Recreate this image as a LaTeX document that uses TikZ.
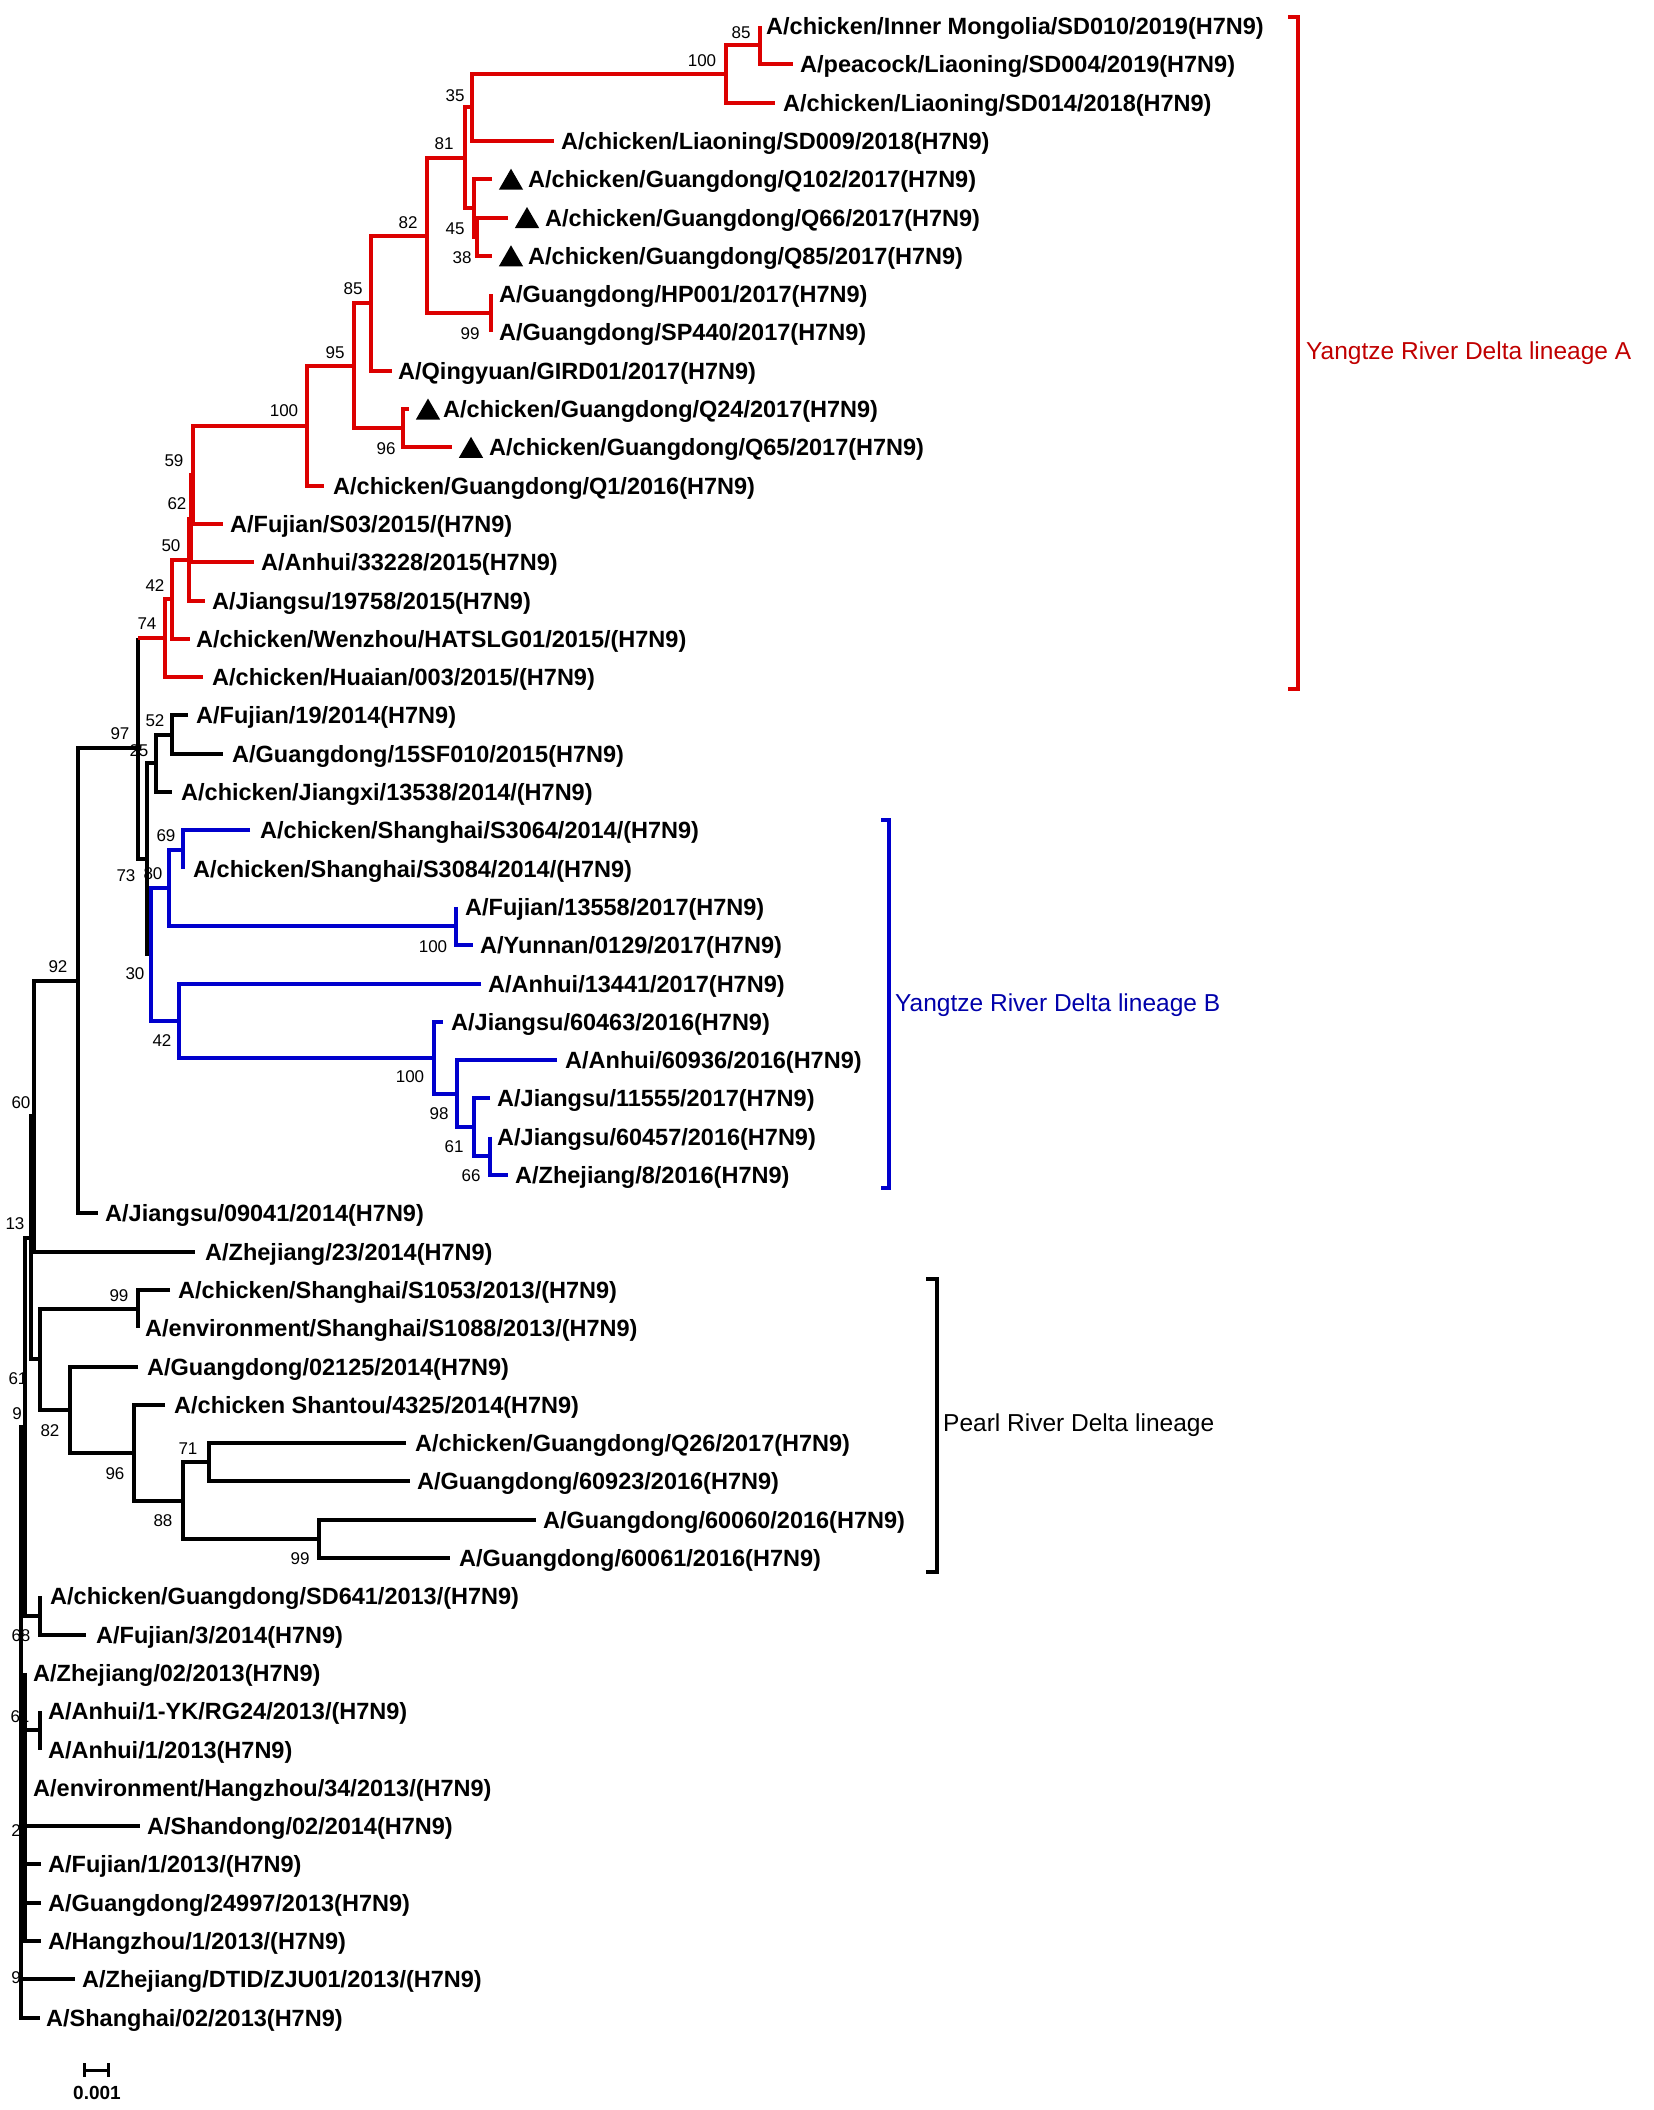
\documentclass[tikz,border=0pt]{standalone}
\usepackage{fontspec}
\setmainfont{Liberation Sans}
\usetikzlibrary{positioning,shapes.geometric}
\definecolor{treered}{RGB}{220,0,0}
\definecolor{labelred}{RGB}{192,0,0}
\definecolor{treeblue}{RGB}{0,0,205}
\definecolor{labelblue}{RGB}{0,0,170}
\begin{document}
\begin{tikzpicture}[x=1pt, y=-1pt,
    kb/.style={line width=4pt, black},
    rb/.style={line width=4pt, treered},
    bb/.style={line width=4pt, treeblue},
    tip/.style={font=\bfseries\fontsize{23.5}{28}\selectfont, inner sep=0pt, anchor=west, text height=17pt, text depth=0pt},
    bs/.style={font=\fontsize{17}{20}\selectfont, inner sep=0pt, text height=12.2pt, text depth=0pt},
    tri/.style={regular polygon, regular polygon sides=3, fill=black, minimum size=28pt, inner sep=0pt},
    clade/.style={font=\fontsize{24.5}{28}\selectfont, inner sep=0pt, anchor=west, text height=17.5pt, text depth=0pt}]
    \useasboundingbox (0,0) rectangle (1654,2110);
    % Bootstrap values
    \node[bs] (b85a) at (741,32) {85};
    \node[bs] (b100a) at (702,60) {100};
    \node[bs] (b35) at (455,95) {35};
    \node[bs] (b81) at (444,143) {81};
    \node[bs] (b45) at (455,228) {45};
    \node[bs] (b38) at (462,257) {38};
    \node[bs] (b82) at (408,222) {82};
    \node[bs] (b99a) at (470,333) {99};
    \node[bs] (b85b) at (353,288) {85};
    \node[bs] (b95) at (335,352) {95};
    \node[bs] (b96a) at (386,448) {96};
    \node[bs] (b100b) at (284,410) {100};
    \node[bs] (b59) at (174,460) {59};
    \node[bs] (b62) at (177,503) {62};
    \node[bs] (b50) at (171,545) {50};
    \node[bs] (b42a) at (155,585) {42};
    \node[bs] (b74) at (147,623) {74};
    \node[bs] (b52) at (155,720) {52};
    \node[bs] (b97) at (120,733) {97};
    \node[bs] (b25) at (139,750) {25};
    \node[bs] (b73) at (126,875) {73};
    \node[bs] (b80) at (153,873) {80};
    \node[bs] (b69) at (166,835) {69};
    \node[bs] (b100c) at (433,946) {100};
    \node[bs] (b30) at (135,973) {30};
    \node[bs] (b42b) at (162,1040) {42};
    \node[bs] (b100d) at (410,1076) {100};
    \node[bs] (b98) at (439,1113) {98};
    \node[bs] (b61b) at (454,1146) {61};
    \node[bs] (b66) at (471,1175) {66};
    \node[bs] (b92) at (58,966) {92};
    \node[bs] (b60) at (21,1102) {60};
    \node[bs] (b13) at (15,1223) {13};
    \node[bs] (b99b) at (119,1295) {99};
    \node[bs] (b82b) at (50,1430) {82};
    \node[bs] (b96b) at (115,1473) {96};
    \node[bs] (b71) at (188,1448) {71};
    \node[bs] (b88) at (163,1520) {88};
    \node[bs] (b99c) at (300,1558) {99};
    \node[bs] (b61c) at (18,1378) {61};
    \node[bs] (b9a) at (17,1413) {9};
    \node[bs] (b68) at (21,1635) {68};
    \node[bs] (b61d) at (20,1716) {61};
    \node[bs] (b2) at (16,1830) {2};
    \node[bs] (b9b) at (16,1977) {9};
    % Leaf ends
    \coordinate (e1) at (760,26);
    \coordinate (e2) at (793,64.3);
    \coordinate (e3) at (775,102.6);
    \coordinate (e4) at (554,140.9);
    \coordinate (e5) at (492,179.2);
    \coordinate (e6) at (508,217.5);
    \coordinate (e7) at (492,255.8);
    \coordinate (e8) at (491,294.1);
    \coordinate (e9) at (491,332.4);
    \coordinate (e10) at (392,370.7);
    \coordinate (e11) at (409,409);
    \coordinate (e12) at (452,447.3);
    \coordinate (e13) at (324,485.6);
    \coordinate (e14) at (223,523.9);
    \coordinate (e15) at (254,562.2);
    \coordinate (e16) at (205,600.5);
    \coordinate (e17) at (190,638.8);
    \coordinate (e18) at (203,677.1);
    \coordinate (e19) at (188,715.4);
    \coordinate (e20) at (223,753.7);
    \coordinate (e21) at (172,792);
    \coordinate (e22) at (250,830.3);
    \coordinate (e23) at (183,868.6);
    \coordinate (e24) at (456,906.9);
    \coordinate (e25) at (473,945.2);
    \coordinate (e26) at (481,983.5);
    \coordinate (e27) at (443,1021.8);
    \coordinate (e28) at (557,1060.1);
    \coordinate (e29) at (490,1098.4);
    \coordinate (e30) at (490,1136.7);
    \coordinate (e31) at (508,1175);
    \coordinate (e32) at (98,1213.3);
    \coordinate (e33) at (195,1251.6);
    \coordinate (e34) at (170,1289.9);
    \coordinate (e35) at (138,1328.2);
    \coordinate (e36) at (138,1366.5);
    \coordinate (e37) at (165,1404.8);
    \coordinate (e38) at (406,1443.1);
    \coordinate (e39) at (410,1481.4);
    \coordinate (e40) at (536,1519.7);
    \coordinate (e41) at (450,1558);
    \coordinate (e42) at (40,1596.3);
    \coordinate (e43) at (86,1634.6);
    \coordinate (e44) at (25,1672.9);
    \coordinate (e45) at (40,1711.2);
    \coordinate (e46) at (40,1749.5);
    \coordinate (e47) at (25,1787.8);
    \coordinate (e48) at (140,1826.1);
    \coordinate (e49) at (41,1864.4);
    \coordinate (e50) at (41,1902.7);
    \coordinate (e51) at (41,1941);
    \coordinate (e52) at (75,1979.3);
    \coordinate (e53) at (40,2017.6);
    % Internal nodes
    \coordinate (n85a) at (760,45.2);
    \coordinate (n100a) at (726,73.9);
    \coordinate (n35) at (472,107.4);
    \coordinate (n38) at (477,236.7);
    \coordinate (n45) at (474,207.9);
    \coordinate (n81) at (465,157.7);
    \coordinate (n99a) at (491,313.3);
    \coordinate (n82) at (427,235.5);
    \coordinate (n85b) at (371,303.1);
    \coordinate (n96a) at (403,428.2);
    \coordinate (n95) at (354,365.6);
    \coordinate (n100b) at (307,425.6);
    \coordinate (n59) at (193,474.8);
    \coordinate (n62) at (191,518.5);
    \coordinate (n50) at (189,559.5);
    \coordinate (n42a) at (172,599.2);
    \coordinate (n74) at (165,638.1);
    \coordinate (n52) at (172,734.6);
    \coordinate (n25) at (156,763.3);
    \coordinate (n69) at (183,849.5);
    \coordinate (n100c) at (456,926.1);
    \coordinate (n80) at (169,887.8);
    \coordinate (n66) at (490,1155.9);
    \coordinate (n61b) at (474,1127.1);
    \coordinate (n98) at (457,1093.6);
    \coordinate (n100d) at (434,1057.7);
    \coordinate (n42b) at (179,1020.6);
    \coordinate (n30) at (151,954.2);
    \coordinate (n73) at (147,858.8);
    \coordinate (n97) at (138,748.4);
    \coordinate (n92) at (78,980.9);
    \coordinate (n60) at (34,1116.2);
    \coordinate (n99b) at (138,1309);
    \coordinate (n99c) at (319,1538.9);
    \coordinate (n71) at (209,1462.3);
    \coordinate (n88) at (183,1500.6);
    \coordinate (n96b) at (134,1452.7);
    \coordinate (n82b) at (70,1409.6);
    \coordinate (nPRD) at (40,1359.3);
    \coordinate (n13) at (31,1237.8);
    \coordinate (nA) at (25,1426.7);
    \coordinate (nSD) at (40,1615.5);
    \coordinate (nAH) at (40,1730.4);
    \coordinate (nC) at (25,1807);
    \coordinate (n9b) at (21,1998.5);
    \coordinate (nRoot) at (21,1712);
    % Black backbone
    \draw[kb] (n13) -| (nA) |- (nSD);
    \draw[kb] (e42) -| (nSD) |- (e43);
    \draw[kb] (e44) -| (nC) |- (e51);
    \draw[kb] (nC) |- (nAH);
    \draw[kb] (e45) -| (nAH) |- (e46);
    \draw[kb] (nC) |- (e47);
    \draw[kb] (nC) |- (e48);
    \draw[kb] (nC) |- (e49);
    \draw[kb] (nC) |- (e50);
    \draw[kb] (nA) -| (nRoot) |- (n9b);
    \draw[kb] (nRoot) -- (nC);
    \draw[kb] (e52) -| (n9b) |- (e53);
    \draw[kb] (n60) -| (n13) |- (nPRD);
    \draw[kb] (n92) -| (n60) |- (e33);
    \draw[kb] (n97) -| (n92) |- (e32);
    \draw[kb] (n74 -| n97) |- (n73);
    \draw[kb] (n25) -| (n73) |- (n30);
    \draw[kb] (n52) -| (n25) |- (e21);
    \draw[kb] (e19) -| (n52) |- (e20);
    % Pearl River Delta clade
    \draw[kb] (n99b) -| (nPRD) |- (n82b);
    \draw[kb] (e34) -| (n99b) |- (e35);
    \draw[kb] (e36) -| (n82b) |- (n96b);
    \draw[kb] (e37) -| (n96b) |- (n88);
    \draw[kb] (n71) -| (n88) |- (n99c);
    \draw[kb] (e38) -| (n71) |- (e39);
    \draw[kb] (e40) -| (n99c) |- (e41);
    % Lineage A
    \draw[rb] (n74 -| n97) -- (n74);
    \draw[rb] (n42a) -| (n74) |- (e18);
    \draw[rb] (n50) -| (n42a) |- (e17);
    \draw[rb] (n62) -| (n50) |- (e16);
    \draw[rb] (n59) -| (n62) |- (e15);
    \draw[rb] (n100b) -| (n59) |- (e14);
    \draw[rb] (n95) -| (n100b) |- (e13);
    \draw[rb] (n85b) -| (n95) |- (n96a);
    \draw[rb] (e11) -| (n96a) |- (e12);
    \draw[rb] (n82) -| (n85b) |- (e10);
    \draw[rb] (n81) -| (n82) |- (n99a);
    \draw[rb] (e8) -| (n99a) |- (e9);
    \draw[rb] (n35) -| (n81) |- (n45);
    \draw[rb] (e5) -| (n45) |- (n38);
    \draw[rb] (e6) -| (n38) |- (e7);
    \draw[rb] (n100a) -| (n35) |- (e4);
    \draw[rb] (n85a) -| (n100a) |- (e3);
    \draw[rb] (e1) -| (n85a) |- (e2);
    % Lineage B
    \draw[bb] (n80) -| (n30) |- (n42b);
    \draw[bb] (n69) -| (n80) |- (n100c);
    \draw[bb] (e22) -| (n69) |- (e23);
    \draw[bb] (e24) -| (n100c) |- (e25);
    \draw[bb] (e26) -| (n42b) |- (n100d);
    \draw[bb] (e27) -| (n100d) |- (n98);
    \draw[bb] (e28) -| (n98) |- (n61b);
    \draw[bb] (e29) -| (n61b) |- (n66);
    \draw[bb] (e30) -| (n66) |- (e31);
    % Markers
    \node[tri] (m5) at ([xshift=19pt, yshift=-3.5pt]e5) {};
    \node[tri] (m6) at ([xshift=19pt, yshift=-3.5pt]e6) {};
    \node[tri] (m7) at ([xshift=19pt, yshift=-3.5pt]e7) {};
    \node[tri] (m11) at ([xshift=19pt, yshift=-3.5pt]e11) {};
    \node[tri] (m12) at ([xshift=19pt, yshift=-3.5pt]e12) {};
    % Leaf names
    \node[tip, right=6pt of e1] (t1) {A/chicken/Inner Mongolia/SD010/2019(H7N9)};
    \node[tip, right=7pt of e2] (t2) {A/peacock/Liaoning/SD004/2019(H7N9)};
    \node[tip, right=8pt of e3] (t3) {A/chicken/Liaoning/SD014/2018(H7N9)};
    \node[tip, right=7pt of e4] (t4) {A/chicken/Liaoning/SD009/2018(H7N9)};
    \node[tip, right=36pt of e5] (t5) {A/chicken/Guangdong/Q102/2017(H7N9)};
    \node[tip, right=37pt of e6] (t6) {A/chicken/Guangdong/Q66/2017(H7N9)};
    \node[tip, right=36pt of e7] (t7) {A/chicken/Guangdong/Q85/2017(H7N9)};
    \node[tip, right=8pt of e8] (t8) {A/Guangdong/HP001/2017(H7N9)};
    \node[tip, right=8pt of e9] (t9) {A/Guangdong/SP440/2017(H7N9)};
    \node[tip, right=6pt of e10] (t10) {A/Qingyuan/GIRD01/2017(H7N9)};
    \node[tip, right=34pt of e11] (t11) {A/chicken/Guangdong/Q24/2017(H7N9)};
    \node[tip, right=37pt of e12] (t12) {A/chicken/Guangdong/Q65/2017(H7N9)};
    \node[tip, right=9pt of e13] (t13) {A/chicken/Guangdong/Q1/2016(H7N9)};
    \node[tip, right=7pt of e14] (t14) {A/Fujian/S03/2015/(H7N9)};
    \node[tip, right=7pt of e15] (t15) {A/Anhui/33228/2015(H7N9)};
    \node[tip, right=7pt of e16] (t16) {A/Jiangsu/19758/2015(H7N9)};
    \node[tip, right=6pt of e17] (t17) {A/chicken/Wenzhou/HATSLG01/2015/(H7N9)};
    \node[tip, right=9pt of e18] (t18) {A/chicken/Huaian/003/2015/(H7N9)};
    \node[tip, right=8pt of e19] (t19) {A/Fujian/19/2014(H7N9)};
    \node[tip, right=9pt of e20] (t20) {A/Guangdong/15SF010/2015(H7N9)};
    \node[tip, right=9pt of e21] (t21) {A/chicken/Jiangxi/13538/2014/(H7N9)};
    \node[tip, right=10pt of e22] (t22) {A/chicken/Shanghai/S3064/2014/(H7N9)};
    \node[tip, right=10pt of e23] (t23) {A/chicken/Shanghai/S3084/2014/(H7N9)};
    \node[tip, right=9pt of e24] (t24) {A/Fujian/13558/2017(H7N9)};
    \node[tip, right=7pt of e25] (t25) {A/Yunnan/0129/2017(H7N9)};
    \node[tip, right=7pt of e26] (t26) {A/Anhui/13441/2017(H7N9)};
    \node[tip, right=8pt of e27] (t27) {A/Jiangsu/60463/2016(H7N9)};
    \node[tip, right=8pt of e28] (t28) {A/Anhui/60936/2016(H7N9)};
    \node[tip, right=7pt of e29] (t29) {A/Jiangsu/11555/2017(H7N9)};
    \node[tip, right=7pt of e30] (t30) {A/Jiangsu/60457/2016(H7N9)};
    \node[tip, right=7pt of e31] (t31) {A/Zhejiang/8/2016(H7N9)};
    \node[tip, right=7pt of e32] (t32) {A/Jiangsu/09041/2014(H7N9)};
    \node[tip, right=10pt of e33] (t33) {A/Zhejiang/23/2014(H7N9)};
    \node[tip, right=8pt of e34] (t34) {A/chicken/Shanghai/S1053/2013/(H7N9)};
    \node[tip, right=7pt of e35] (t35) {A/environment/Shanghai/S1088/2013/(H7N9)};
    \node[tip, right=9pt of e36] (t36) {A/Guangdong/02125/2014(H7N9)};
    \node[tip, right=9pt of e37] (t37) {A/chicken Shantou/4325/2014(H7N9)};
    \node[tip, right=9pt of e38] (t38) {A/chicken/Guangdong/Q26/2017(H7N9)};
    \node[tip, right=7pt of e39] (t39) {A/Guangdong/60923/2016(H7N9)};
    \node[tip, right=7pt of e40] (t40) {A/Guangdong/60060/2016(H7N9)};
    \node[tip, right=9pt of e41] (t41) {A/Guangdong/60061/2016(H7N9)};
    \node[tip, right=10pt of e42] (t42) {A/chicken/Guangdong/SD641/2013/(H7N9)};
    \node[tip, right=10pt of e43] (t43) {A/Fujian/3/2014(H7N9)};
    \node[tip, right=8pt of e44] (t44) {A/Zhejiang/02/2013(H7N9)};
    \node[tip, right=8pt of e45] (t45) {A/Anhui/1-YK/RG24/2013/(H7N9)};
    \node[tip, right=8pt of e46] (t46) {A/Anhui/1/2013(H7N9)};
    \node[tip, right=8pt of e47] (t47) {A/environment/Hangzhou/34/2013/(H7N9)};
    \node[tip, right=7pt of e48] (t48) {A/Shandong/02/2014(H7N9)};
    \node[tip, right=7pt of e49] (t49) {A/Fujian/1/2013/(H7N9)};
    \node[tip, right=7pt of e50] (t50) {A/Guangdong/24997/2013(H7N9)};
    \node[tip, right=7pt of e51] (t51) {A/Hangzhou/1/2013/(H7N9)};
    \node[tip, right=7pt of e52] (t52) {A/Zhejiang/DTID/ZJU01/2013/(H7N9)};
    \node[tip, right=6pt of e53] (t53) {A/Shanghai/02/2013(H7N9)};
    % Lineage brackets
    \draw[rb] (1288,17) -- (1298,17) -- (1298,689) -- (1288,689);
    \node[clade, text=labelred] (linA) at (1306,351) {Yangtze River Delta lineage A};
    \draw[bb] (881,820) -- (889,820) -- (889,1188) -- (881,1188);
    \node[clade, text=labelblue] (linB) at (895,1003) {Yangtze River Delta lineage B};
    \draw[kb] (926,1279) -- (937,1279) -- (937,1572) -- (926,1572);
    \node[clade] (linP) at (943,1423) {Pearl River Delta lineage};
    % Scale bar
    \draw[kb, line width=3pt] (84,2063) -- (84,2077) (84,2070) -- (108,2070) (108,2063) -- (108,2077);
    \node[font=\bfseries\fontsize{19}{22}\selectfont, inner sep=0pt] (scale) at (97,2093) {0.001};
\end{tikzpicture}
\end{document}
